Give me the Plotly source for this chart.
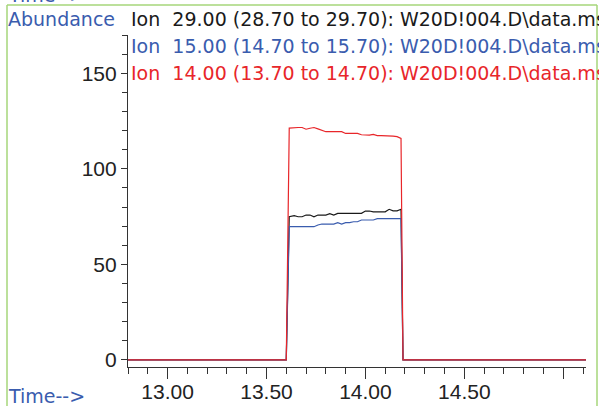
import plotly.graph_objects as go

# ---- data ----
times = [12.80, 13.60, 13.615, 13.64, 13.66, 13.68, 13.70, 13.72, 13.74, 13.76, 13.78, 13.80,
         13.82, 13.84, 13.86, 13.88, 13.90, 13.92, 13.94, 13.96, 13.98, 14.00,
         14.02, 14.04, 14.06, 14.08, 14.10, 14.12, 14.14, 14.16, 14.18, 14.19, 15.115]

ion29 = [0, 0, 74.9, 75.5, 74.9, 74.9, 75.8, 75.8, 74.9, 75.8, 75.8, 75.8,
         76.5, 75.8, 76.7, 76.7, 76.7, 76.7, 76.7, 76.7, 76.7, 77.9,
         77.9, 77.5, 77.5, 77.5, 77.5, 78.8, 78.0, 78.0, 78.8, 0, 0]

ion15 = [0, 0, 69.7, 69.7, 69.7, 69.7, 69.7, 69.7, 69.7, 70.6, 71.1, 71.1,
         71.1, 71.1, 71.8, 71.1, 71.8, 71.8, 72.3, 72.3, 73.2, 73.2,
         73.2, 73.2, 73.9, 73.9, 73.9, 73.9, 73.9, 73.9, 73.9, 0, 0]

ion14 = [0, 0, 121.3, 121.6, 121.6, 121.6, 120.7, 121.2, 121.6, 120.9, 120.2, 119.4,
         119.4, 119.4, 119.4, 119.4, 118.5, 118.5, 118.5, 118.5, 117.8, 117.6,
         117.6, 118.0, 117.4, 117.4, 117.4, 117.1, 117.1, 116.8, 115.9, 0, 0]

labels = [
    "Ion\u00a0\u00a029.00 (28.70 to 29.70): W20D!004.D\\data.ms",
    "Ion\u00a0\u00a015.00 (14.70 to 15.70): W20D!004.D\\data.ms",
    "Ion\u00a0\u00a014.00 (13.70 to 14.70): W20D!004.D\\data.ms",
]
x_tickvals = [13.0, 13.5, 14.0, 14.5, 15.0]
x_ticktext = ["13.00", "13.50", "14.00", "14.50", ""]
y_tickvals = [0, 50, 100, 150]

BLACK = "#1a1a1a"
BLUE = "#3a5cae"
RED = "#e8262a"
GREEN = "#a6d67a"

fig = go.Figure()
for ys, col in [(ion29, BLACK), (ion15, BLUE), (ion14, RED)]:
    fig.add_trace(go.Scatter(x=times, y=ys, mode="lines",
                             line=dict(color=col, width=1.2), showlegend=False))

W, H = 599, 406
L, R, T, B = 128, 13, 35, 39
pw, ph = W - L - R, H - T - B


def px(x):
    return (x - L) / pw


def py(y):
    return (H - B - y) / ph


annots = []
annots.append(dict(text="Abundance", x=px(6), y=py(19), xanchor="left", yanchor="middle",
                   font=dict(color=BLUE, size=19, family="DejaVu Sans")))
annots.append(dict(text="Time-->", x=px(6), y=py(396), xanchor="left", yanchor="middle",
                   font=dict(color=BLUE, size=19, family="DejaVu Sans")))
annots.append(dict(text="Time-->", x=px(6), y=py(-5), xanchor="left", yanchor="middle",
                   font=dict(color=BLUE, size=19, family="DejaVu Sans")))
for lab, col, yy in zip(labels, [BLACK, BLUE, RED], [19, 46, 73]):
    annots.append(dict(text=lab, x=px(129), y=py(yy), xanchor="left", yanchor="middle",
                       font=dict(color=col, size=19, family="DejaVu Sans")))
for a in annots:
    a.update(xref="paper", yref="paper", showarrow=False)

shapes = [
    dict(type="line", xref="paper", yref="paper", x0=px(7), x1=px(7), y0=py(5), y1=py(420),
         line=dict(color=GREEN, width=1.5)),
    dict(type="line", xref="paper", yref="paper", x0=px(597), x1=px(597), y0=py(5), y1=py(420),
         line=dict(color=GREEN, width=1.5)),
    dict(type="line", xref="paper", yref="paper", x0=px(7), x1=px(597), y0=py(5), y1=py(5),
         line=dict(color=GREEN, width=1.5)),
]

fig.update_layout(
    width=W, height=H, margin=dict(l=L, r=R, t=T, b=B, autoexpand=False),
    paper_bgcolor="white", plot_bgcolor="white",
    font=dict(family="Liberation Sans, Arial", color="#222222"),
    annotations=annots, shapes=shapes,
    xaxis=dict(range=[12.80, 15.115], tickmode="array", tickvals=x_tickvals, ticktext=x_ticktext,
               automargin=False, ticklabelstandoff=-5,
               showgrid=False, zeroline=False, showline=True, linecolor="#333333", linewidth=1.2,
               ticks="outside", ticklen=11, tickcolor="#333333", tickwidth=1.2,
               tickfont=dict(size=21, color="#222222"),
               minor=dict(tickmode="linear", tick0=12.8, dtick=0.1, ticks="outside",
                          ticklen=6, tickcolor="#333333", tickwidth=1.2)),
    yaxis=dict(range=[-3.7, 170], tickmode="array", tickvals=y_tickvals,
               automargin=False,
               showgrid=False, zeroline=False, showline=True, linecolor="#333333", linewidth=1.2,
               ticks="outside", ticklen=6, tickcolor="#333333", tickwidth=1.2,
               tickfont=dict(size=21, color="#222222"),
               minor=dict(tickmode="linear", tick0=0, dtick=10, ticks="outside",
                          ticklen=5, tickcolor="#333333", tickwidth=1.2)),
)

fig.write_html("out.html")
